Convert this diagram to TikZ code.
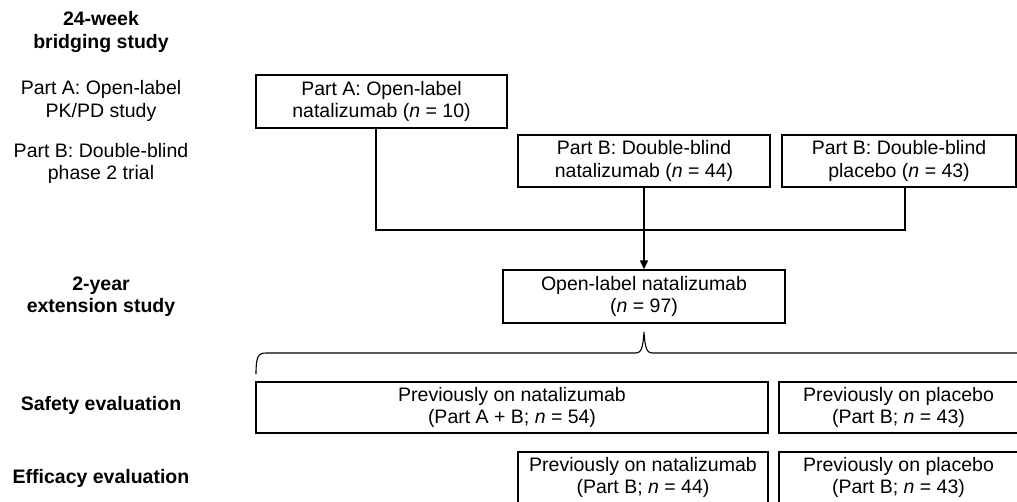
\documentclass[tikz,border=0pt]{standalone}
\usepackage{fontspec}
\setmainfont{Liberation Sans}
\usetikzlibrary{arrows.meta}
\begin{document}
\begin{tikzpicture}[x=1pt,y=-1pt,
  every node/.style={font=\fontsize{19.5}{22.5}\selectfont, align=center, inner sep=0pt},
  box/.style={draw, line width=1.4pt, rectangle},
  lbl/.style={},
  blbl/.style={font=\fontsize{19.5}{22.5}\selectfont\bfseries},
  conn/.style={line width=1.4pt},
]
\useasboundingbox (0,0) rectangle (1017,501);
\clip (0,0) rectangle (1017,501);
% left labels
\node[blbl] (l1) at (101,32) {24-week\\bridging study};
\node[lbl] (l2) at (101,101) {Part A: Open-label\\PK/PD study};
\node[lbl] (l3) at (101,163.5) {Part B: Double-blind\\phase 2 trial};
\node[blbl] (l4) at (101,296.5) {2-year\\extension study};
\node[blbl] (l5) at (101,405) {Safety evaluation};
\node[blbl] (l6) at (101,478) {Efficacy evaluation};
% boxes
\node[box, minimum width=251pt, minimum height=53pt] (A) at (381.5,101.5) {Part A: Open-label\\natalizumab (\textit{n} = 10)};
\node[box, minimum width=252pt, minimum height=52pt] (Bn) at (644,161) {Part B: Double-blind\\natalizumab (\textit{n} = 44)};
\node[box, minimum width=234pt, minimum height=52pt] (Bp) at (899,161) {Part B: Double-blind\\placebo (\textit{n} = 43)};
\node[box, minimum width=282pt, minimum height=53pt] (OL) at (644,296.5) {Open-label natalizumab\\(\textit{n} = 97)};
\node[box, minimum width=512pt, minimum height=51pt] (Sn) at (512,407.5) {Previously on natalizumab\\(Part A + B; \textit{n} = 54)};
\node[box, minimum width=239pt, minimum height=51pt] (Sp) at (898.5,407.5) {Previously on placebo\\(Part B; \textit{n} = 43)};
\node[box, minimum width=250pt, minimum height=51pt] (En) at (643,477.5) {Previously on natalizumab\\(Part B; \textit{n} = 44)};
\node[box, minimum width=239pt, minimum height=51pt] (Ep) at (898.5,477.5) {Previously on placebo\\(Part B; \textit{n} = 43)};
% connectors
\coordinate (join) at (644,230);
\draw[conn] ([xshift=-5.5pt]A.south) |- (join);
\draw[conn] ([xshift=6pt]Bp.south) |- (join);
\draw[conn, -{Triangle[length=9pt,width=8pt]}] (Bn.south) -- (OL.north);
% brace
\draw[line width=1.1pt] (256,374) .. controls (256,357) and (258,353) .. (266,353)
  -- (636,353) .. controls (641,353) and (643,348) .. (644,332)
  .. controls (645,348) and (647,353) .. (652,353)
  -- (1022,353) .. controls (1030,353) and (1032,357) .. (1032,374);
\end{tikzpicture}
\end{document}
